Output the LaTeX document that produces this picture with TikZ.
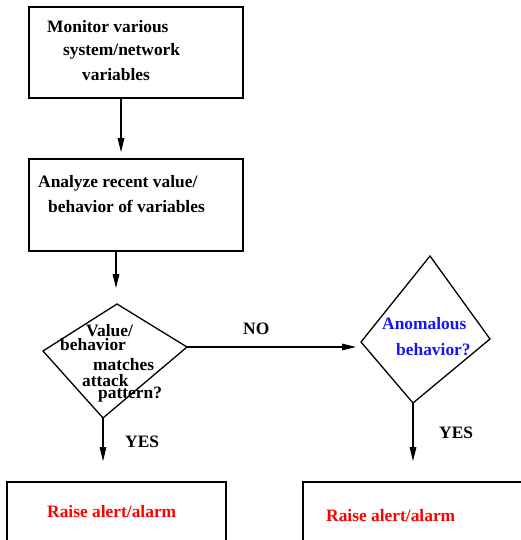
\documentclass[tikz,border=0pt]{standalone}
\usepackage{fontspec}
\setmainfont{Liberation Serif}
\usetikzlibrary{arrows.meta}
\definecolor{alertred}{RGB}{255,0,0}
\definecolor{qblue}{RGB}{20,20,245}
\begin{document}
\begin{tikzpicture}[x=1pt,y=-1pt,
  boxst/.style={draw,line width=1.6pt,inner sep=0pt,minimum width=#1},
  lbl/.style={anchor=base west,inner sep=0pt,font=\fontsize{17.4}{20}\selectfont\bfseries},
  arr/.style={line width=1.3pt,-{Triangle[length=14pt,width=6.5pt]}},
  dia/.style={line width=1.3pt,line join=miter}]
\clip (0,0) rectangle (521,540);
% boxes
\node[boxst=214pt,minimum height=91pt] (b1) at (136,52.5) {};
\node[boxst=214pt,minimum height=92pt] (b2) at (136,205) {};
\node[boxst=219pt,minimum height=118pt] (b3) at (116.5,541) {};
\node[boxst=257pt,minimum height=118pt] (b4) at (431.5,541) {};
% diamond corners
\coordinate (d1t) at (117,304);
\coordinate (d1l) at (43,351);
\coordinate (d1b) at (103,418);
\coordinate (d1r) at (187,347);
\coordinate (d2t) at (430,256);
\coordinate (d2l) at (361,342);
\coordinate (d2b) at (413,403);
\coordinate (d2r) at (490,339);
\draw[dia] (d1t) -- (d1r) -- (d1b) -- (d1l) -- cycle;
\draw[dia] (d2t) -- (d2r) -- (d2b) -- (d2l) -- cycle;
% texts
\node[lbl] (t1) at (47,33) {Monitor various};
\node[lbl] (t2) at (63,56) {system/network};
\node[lbl] (t3) at (82,81) {variables};
\node[lbl] (t4) at (38,187) {Analyze recent value/};
\node[lbl] (t5) at (48,212) {behavior of variables};
\node[lbl] (t6) at (86,336) {Value/};
\node[lbl] (t7) at (60,350) {behavior};
\node[lbl] (t8) at (93,370) {matches};
\node[lbl] (t9) at (82,386) {attack};
\node[lbl] (t10) at (98,398) {pattern?};
\node[lbl,text=qblue] (t11) at (382,329) {Anomalous};
\node[lbl,text=qblue] (t12) at (396,355) {behavior?};
\node[lbl] (no) at (243,334) {NO};
\node[lbl] (yes1) at (125,447) {YES};
\node[lbl] (yes2) at (439,438) {YES};
\node[lbl,text=alertred] (r1) at (47,517) {Raise alert/alarm};
\node[lbl,text=alertred] (r2) at (326,521) {Raise alert/alarm};
% connectors
\draw[arr,shorten >=6pt] ([xshift=-15pt]b1.south) -- ([xshift=-15pt]b2.north);
\draw[arr,shorten >=16pt] ([xshift=-20pt]b2.south) -- ([xshift=-20pt]b2.south |- d1t);
\draw[arr,shorten >=20pt] (d1b) -- (d1b |- b3.north);
\draw[arr,shorten >=20pt] (d2b) -- (d2b |- b4.north);
\draw[arr,shorten >=5pt] (d1r) -- (d1r -| d2l);
\end{tikzpicture}
\end{document}
